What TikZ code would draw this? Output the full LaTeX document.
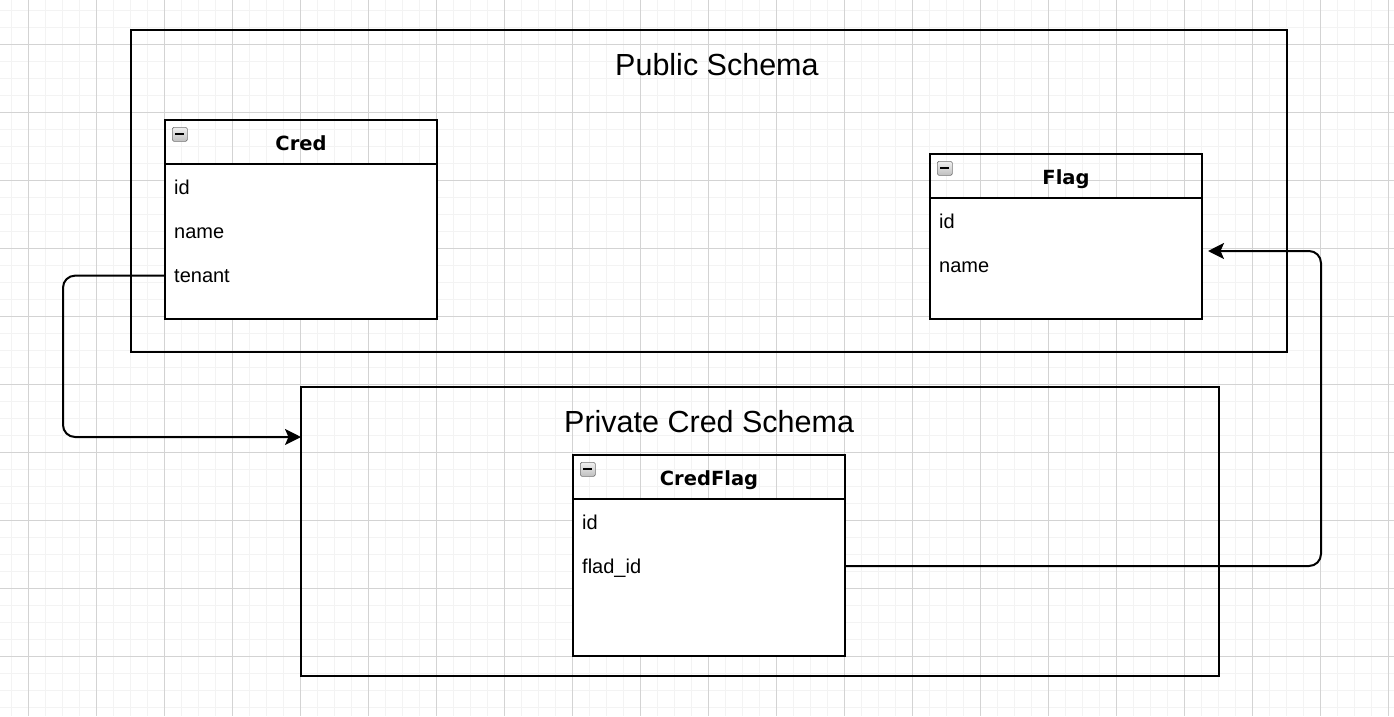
\documentclass[tikz,border=0pt]{standalone}
\usepackage{fontspec}
\setmainfont{Liberation Sans}
\newfontfamily\hdrfont{DejaVu Sans Bold}
\usetikzlibrary{arrows.meta,calc}
\definecolor{gridminor}{HTML}{F3F3F3}
\definecolor{gridmajor}{HTML}{D3D3D3}
\begin{document}
\begin{tikzpicture}[x=1pt,y=-1pt,
  minorgrid/.style={draw=gridminor,line width=1pt},
  majorgrid/.style={draw=gridmajor,line width=1pt},
  schemabox/.style={draw=black,line width=2pt,fill=none,anchor=north west,inner sep=0pt,outer sep=0pt},
  tablebox/.style={draw=black,line width=2pt,anchor=north west,inner sep=0pt,outer sep=0pt},
  bodybox/.style={draw=black,line width=2pt,fill=white},
  titletext/.style={anchor=base west,inner sep=0pt,font=\fontsize{30.5}{36}\selectfont},
  fieldtext/.style={anchor=base west,inner sep=0pt,font=\fontsize{20}{24}\selectfont},
  headtext/.style={anchor=base,inner sep=0pt,font=\hdrfont\fontsize{19.5}{24}\selectfont},
  iconbox/.style={draw=gray!90!black,line width=0.6pt,rounded corners=1.5pt,top color=gray!12,bottom color=gray!50,minimum width=15pt,minimum height=14pt,anchor=north west,inner sep=0pt},
  iconbar/.style={draw=black,line width=2pt},
  conn/.style={draw=black,line width=2pt,rounded corners=12pt,-{Stealth[length=16pt,width=16pt,inset=3.5pt]}}
]
\fill[white] (0,0) rectangle (1394,716);
\useasboundingbox (0,0) rectangle (1394,716);
% grid
\foreach \k in {0,...,81} \draw[minorgrid] ({11+17*\k},0) -- ({11+17*\k},716);
\foreach \k in {0,...,41} \draw[minorgrid] (0,{10+17*\k}) -- (1394,{10+17*\k});
\foreach \k in {0,...,20} \draw[majorgrid] ({28+68*\k},0) -- ({28+68*\k},716);
\foreach \k in {0,...,9} \draw[majorgrid] (0,{44+68*\k}) -- (1394,{44+68*\k});

% schema containers
\node[schemabox,minimum width=1156pt,minimum height=322pt] (public) at (131,30) {};
\node[schemabox,minimum width=918pt,minimum height=289pt] (private) at (301,387) {};
\node[titletext] (public-title) at (615,75) {Public Schema};
\node[titletext] (private-title) at (564,432) {Private Cred Schema};

% Cred table
\node[tablebox,minimum width=272pt,minimum height=199pt] (cred) at (165,120) {};
\draw[bodybox] ($(cred.north west)+(0,44)$) rectangle (cred.south east);
\node[iconbox] (cred-icon) at ($(cred.north west)+(7,7)$) {};
\draw[iconbar] ($(cred-icon.center)+(-4.5,0)$) -- ($(cred-icon.center)+(4.5,0)$);
\node[headtext] (cred-title) at ($(cred.north)+(0,30)$) {Cred};
\node[fieldtext] (cred-id) at ($(cred.north west)+(9,74)$) {id};
\node[fieldtext] (cred-name) at ($(cred.north west)+(9,118)$) {name};
\node[fieldtext] (cred-tenant) at ($(cred.north west)+(9,162)$) {tenant};

% Flag table
\node[tablebox,minimum width=272pt,minimum height=165pt] (flag) at (930,154) {};
\draw[bodybox] ($(flag.north west)+(0,44)$) rectangle (flag.south east);
\node[iconbox] (flag-icon) at ($(flag.north west)+(7,7)$) {};
\draw[iconbar] ($(flag-icon.center)+(-4.5,0)$) -- ($(flag-icon.center)+(4.5,0)$);
\node[headtext] (flag-title) at ($(flag.north)+(0,30)$) {Flag};
\node[fieldtext] (flag-id) at ($(flag.north west)+(9,74)$) {id};
\node[fieldtext] (flag-name) at ($(flag.north west)+(9,118)$) {name};

% CredFlag table
\node[tablebox,minimum width=272pt,minimum height=201pt] (credflag) at (573,455) {};
\draw[bodybox] ($(credflag.north west)+(0,44)$) rectangle (credflag.south east);
\node[iconbox] (credflag-icon) at ($(credflag.north west)+(7,7)$) {};
\draw[iconbar] ($(credflag-icon.center)+(-4.5,0)$) -- ($(credflag-icon.center)+(4.5,0)$);
\node[headtext] (credflag-title) at ($(credflag.north)+(0,30)$) {CredFlag};
\node[fieldtext] (credflag-id) at ($(credflag.north west)+(9,74)$) {id};
\node[fieldtext] (credflag-fladid) at ($(credflag.north west)+(9,118)$) {flad\_id};

% connectors
\coordinate (privin) at ($(private.north west)+(0,50)$);
\coordinate (flagin) at ($(flag.north east)+(6,97)$);
\draw[conn] (cred.west |- cred-tenant) -- ++(-102,0) |- (privin);
\draw[conn] ($(credflag.north east)+(0,111)$) -- ++(476,0) |- (flagin);
\end{tikzpicture}
\end{document}
